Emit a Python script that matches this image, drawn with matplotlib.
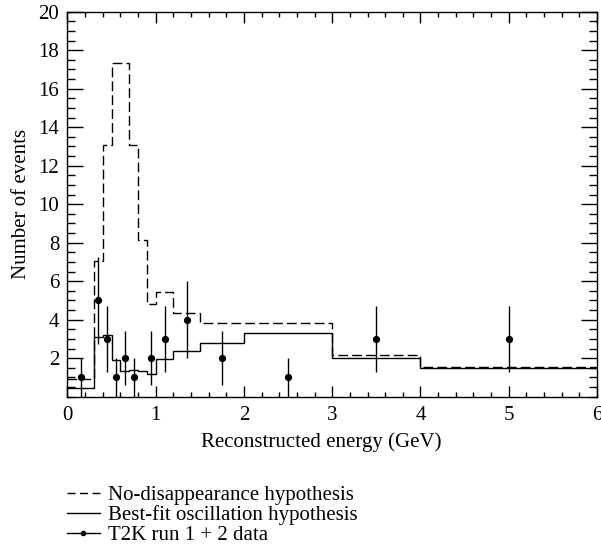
import numpy as np
import matplotlib.pyplot as plt
from matplotlib.lines import Line2D

plt.rcParams['font.family'] = ['Liberation Serif', 'DejaVu Serif']
plt.rcParams['font.size'] = 15

# bin edges (GeV)
edges = [0, 0.3, 0.4, 0.5, 0.6, 0.7, 0.8, 0.9, 1.0, 1.2, 1.5, 2.0, 3.0, 4.0, 6.0]

# expected events
no_disappearance = [0.92, 7.03, 13.1, 17.33, 17.33, 13.1, 8.16, 4.84, 5.45, 4.34, 3.84, 3.84, 2.17, 1.55]
best_fit = [0.43, 3.1, 3.2, 1.9, 1.35, 1.38, 1.33, 1.16, 1.95, 2.37, 2.78, 3.3, 2.03, 1.5]

# observed data
counts = [1, 5, 3, 1, 2, 1, 0, 2, 3, 4, 2, 1, 3, 3]
count_err = [1.0, 2.24, 1.73, 1.0, 1.41, 1.0, 0.0, 1.41, 1.73, 2.0, 1.41, 1.0, 1.73, 1.73]

edges_arr = np.array(edges)
centers = (edges_arr[:-1] + edges_arr[1:]) / 2
counts_arr = np.array(counts)
err_arr = np.array(count_err)
mask = counts_arr > 0

fig = plt.figure(figsize=(6.01, 5.59), dpi=100)
ax = fig.add_axes([0.1123, 0.2903, 0.881, 0.6887])

ax.stairs(no_disappearance, edges, baseline=None, color='black', lw=1.0,
          linestyle=(0, (7, 3)))
ax.stairs(best_fit, edges, baseline=None, color='black', lw=1.0)
ax.errorbar(centers[mask], counts_arr[mask], yerr=err_arr[mask], fmt='o',
            color='black', ms=4.2, elinewidth=1.0, capsize=0)

ax.set_xlim(0, 6)
ax.set_ylim(0, 20)
ax.set_xticks(np.arange(0, 7, 1))
ax.set_xticks(np.arange(0, 6.01, 0.2), minor=True)
ax.set_yticks(np.arange(2, 21, 2))
ax.set_yticks(np.arange(0, 20.01, 0.5), minor=True)
ax.tick_params(axis='x', which='major', direction='in', length=8, width=1,
               top=True, pad=7)
ax.tick_params(axis='x', which='minor', direction='in', length=3.6, width=1, top=True)
ax.tick_params(axis='y', which='major', direction='in', length=11.3, width=1,
               right=True, pad=6)
ax.tick_params(axis='y', which='minor', direction='in', length=6, width=1, right=True)
for s in ax.spines.values():
    s.set_linewidth(1.0)

ax.set_xlabel('Reconstructed energy (GeV)')
ax.xaxis.set_label_coords(0.48, -0.093)
ax.set_ylabel('Number of events', labelpad=5)

handles = [
    Line2D([], [], color='black', lw=1.0, linestyle=(0, (5.8, 3.2))),
    Line2D([], [], color='black', lw=1.0),
    Line2D([], [], color='black', lw=1.0, marker='o', ms=3),
]
labels = ['No-disappearance hypothesis', 'Best-fit oscillation hypothesis',
          'T2K run 1 + 2 data']
fig.legend(handles, labels, loc='upper left', bbox_to_anchor=(0.111, 0.131),
           frameon=False, handlelength=1.6, handletextpad=0.4, labelspacing=0.0,
           borderaxespad=0, borderpad=0)

fig.savefig('out.png', dpi=100)
